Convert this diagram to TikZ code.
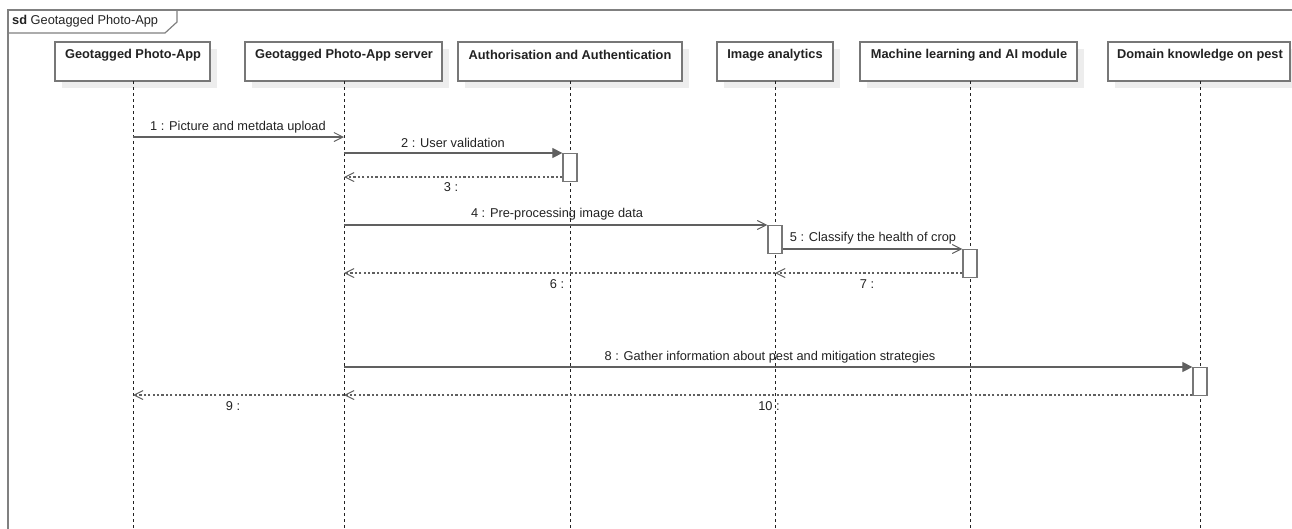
\documentclass[tikz,border=0pt]{standalone}
\usepackage{fontspec}
\setmainfont{Liberation Sans}
\usetikzlibrary{arrows.meta}
\definecolor{framegray}{HTML}{808080}
\definecolor{boxgray}{HTML}{777777}
\definecolor{shadowgray}{HTML}{EDEDED}
\definecolor{msggray}{HTML}{606060}
\definecolor{inkgray}{HTML}{222222}
\tikzset{
  lifebox/.style={draw=boxgray, line width=1.3pt, fill=white, minimum height=39pt, inner sep=0pt},
  boxshadow/.style={fill=shadowgray, draw=none},
  headtext/.style={font=\fontsize{12.8}{15}\selectfont\bfseries, text=inkgray, anchor=center, inner sep=0pt},
  lifeline/.style={draw=inkgray, line width=0.9pt, dash pattern=on 3pt off 3pt},
  actbox/.style={draw=boxgray, line width=1.3pt, fill=white, minimum width=14pt, inner sep=0pt, anchor=north},
  call/.style={draw=msggray, line width=1.2pt},
  syncmsg/.style={call, -{Triangle[length=10pt, width=10pt]}},
  asyncmsg/.style={call, -{Straight Barb[length=9pt, width=9pt, line width=1pt]}},
  retmsg/.style={draw=msggray, line width=1.2pt, dash pattern=on 2.2pt off 2.2pt, -{Straight Barb[length=9pt, width=9pt, line width=1pt]}},
  msglabel/.style={font=\fontsize{12.8}{15}\selectfont, text=inkgray, inner sep=0pt},
}
\begin{document}
\begin{tikzpicture}[x=1pt, y=-1pt]
\useasboundingbox (0,0) rectangle (1292,528);
\clip (0,0) rectangle (1292,528);

% interaction frame with its name tab
\draw[framegray, line width=1.5pt] (8,540) -- (8,10) -- (1300,10);
\draw[framegray, line width=1.2pt] (8,33) -- (165,33) -- (177,22) -- (177,10);
\node[msglabel, anchor=west] (title) at (12,21.5) {\textbf{sd}\ Geotagged Photo-App};

% lifeline heads: shadows first, then boxes
\foreach \l/\r in {55/210, 245/442, 458/682, 717/833, 860/1077, 1108/1290}
  \fill[boxshadow] (\l+7,49) rectangle (\r+7,88);

\node[lifebox, minimum width=155pt] (p1) at (132.5,61.5) {};
\node[lifebox, minimum width=197pt] (p2) at (343.5,61.5) {};
\node[lifebox, minimum width=224pt] (p3) at (570,61.5) {};
\node[lifebox, minimum width=116pt] (p4) at (775,61.5) {};
\node[lifebox, minimum width=217pt] (p5) at (968.5,61.5) {};
\node[lifebox, minimum width=182pt] (p6) at (1199,61.5) {};

\node[headtext] (h1) at (133,55) {Geotagged Photo-App};
\node[headtext] (h2) at (344,55) {Geotagged Photo-App server};
\node[headtext] (h3) at (570,55) {Authorisation and Authentication};
\node[headtext] (h4) at (775,55) {Image analytics};
\node[headtext] (h5) at (969,55) {Machine learning and AI module};
\node[headtext] (h6) at (1200,55) {Domain knowledge on pest};

% lifelines
\coordinate (e1) at (133,528);
\coordinate (e2) at (344,528);
\coordinate (e3) at (570,528);
\coordinate (e4) at (775,528);
\coordinate (e5) at (970,528);
\coordinate (e6) at (1200,528);
\draw[lifeline] (133,81) -- (e1);
\draw[lifeline] (344,81) -- (e2);
\draw[lifeline] (570,81) -- (e3);
\draw[lifeline] (775,81) -- (e4);
\draw[lifeline] (970,81) -- (e5);
\draw[lifeline] (1200,81) -- (e6);

% activation bars
\node[actbox, minimum height=28pt] (a3) at (570,153) {};
\node[actbox, minimum height=28pt] (a4) at (775,225) {};
\node[actbox, minimum height=28pt] (a5) at (970,249) {};
\node[actbox, minimum height=28pt] (a6) at (1200,367) {};

% message end points on the lifelines
\coordinate (s1) at (133,137);
\coordinate (t1) at (344,137);
\coordinate (s2) at (344,153);
\coordinate (t3) at (344,177);
\coordinate (s4) at (344,225);
\coordinate (t6) at (344,273);
\coordinate (t7) at (775,273);
\coordinate (s8) at (344,367);
\coordinate (t10) at (344,395);
\coordinate (t9) at (133,395);

% messages
\draw[asyncmsg] (s1) -- (t1);
\node[msglabel] (l1) at (238,127) {1 : Picture and metdata upload};

\draw[syncmsg] (s2) -- (a3.north west);
\node[msglabel] (l2) at (453,143) {2 : User validation};

\draw[retmsg] (a3.west |- t3) -- (t3);
\node[msglabel] (l3) at (451,187) {3 :};

\draw[asyncmsg] (s4) -- (a4.north west);
\node[msglabel] (l4) at (557,214.5) {4 : Pre-processing image data};

\draw[asyncmsg] (a4.east |- a5.north) -- (a5.north west);
\node[msglabel] (l5) at (873,238.5) {5 : Classify the health of crop};

\draw[retmsg] (a5.west |- t7) -- (t7);
\node[msglabel] (l7) at (867,284) {7 :};
\draw[retmsg] (t7) -- (t6);
\node[msglabel] (l6) at (557,284) {6 :};

\draw[syncmsg] (s8) -- (a6.north west);
\node[msglabel] (l8) at (770,357) {8 : Gather information about pest and mitigation strategies};

\draw[retmsg] (a6.west |- t10) -- (t10);
\node[msglabel] (l10) at (769,406) {10 :};
\draw[retmsg] (t10) -- (t9);
\node[msglabel] (l9) at (233,406) {9 :};
\end{tikzpicture}
\end{document}
